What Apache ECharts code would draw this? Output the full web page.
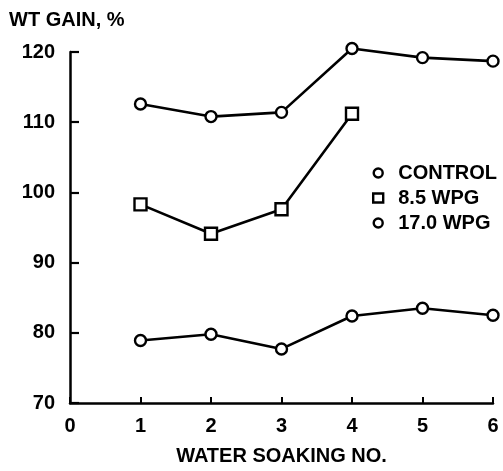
<!DOCTYPE html>
<html>
<head>
<meta charset="utf-8">
<script src="https://cdn.jsdelivr.net/npm/echarts@6/dist/echarts.min.js"></script>
<style>
  html, body { margin: 0; padding: 0; background: #fff; }
  #chart { width: 503px; height: 471px; }
</style>
</head>
<body>
<div id="chart"></div>
<script>
// Water soaking number (x) and weight gain in percent for each treatment
const soakingNo = [1, 2, 3, 4, 5, 6];
const controlGain = [112.6, 110.8, 111.4, 120.5, 119.2, 118.7];
const wpg85Gain = [98.3, 94.1, 97.6, 111.2];
const wpg170Gain = [78.9, 79.8, 77.7, 82.4, 83.5, 82.5];

const seriesNames = ['CONTROL', '8.5 WPG', '17.0 WPG'];
const xTicks = [0, 1, 2, 3, 4, 5, 6];
const yTicks = [70, 80, 90, 100, 110, 120];

const FONT = 'Liberation Sans, Arial, sans-serif';
const INK = '#000';

function pairs(values) {
  return values.map((v, i) => [soakingNo[i], v]);
}

function lineSeries(name, values, symbol, size) {
  return {
    name: name,
    type: 'line',
    data: pairs(values),
    symbol: symbol,
    symbolSize: size,
    showAllSymbol: true,
    clip: false,
    lineStyle: { color: INK, width: 2.6 },
    itemStyle: { color: '#fff', borderColor: INK, borderWidth: 2.4 },
    emphasis: { disabled: true },
    animation: false
  };
}

const chart = echarts.init(document.getElementById('chart'), null, { renderer: 'canvas' });

chart.setOption({
  backgroundColor: '#fff',
  animation: false,
  grid: { left: 70, right: 10, top: 52, bottom: 64, containLabel: false },
  graphic: [{
    type: 'text',
    left: 9,
    top: 10,
    style: {
      text: 'WT GAIN, %',
      font: 'bold 20px ' + FONT,
      fill: INK
    }
  }],
  legend: {
    orient: 'vertical',
    left: 372,
    top: 163,
    padding: 0,
    itemGap: 5,
    itemWidth: 10,
    itemHeight: 9,
    selectedMode: false,
    itemStyle: { color: '#fff', borderColor: INK, borderWidth: 2.4 },
    textStyle: {
      fontFamily: FONT,
      fontWeight: 'bold',
      fontSize: 20,
      color: INK,
      padding: [0, 0, 0, 10]
    },
    data: [
      { name: seriesNames[0], icon: 'circle' },
      { name: seriesNames[1], icon: 'rect' },
      { name: seriesNames[2], icon: 'circle' }
    ]
  },
  xAxis: {
    type: 'value',
    min: xTicks[0],
    max: xTicks[xTicks.length - 1],
    interval: 1,
    name: 'WATER SOAKING NO.',
    nameLocation: 'middle',
    nameGap: 43,
    nameTextStyle: { fontFamily: FONT, fontWeight: 'bold', fontSize: 20, color: INK },
    axisLine: { show: true, lineStyle: { color: INK, width: 2.5 } },
    axisTick: { show: true, inside: true, length: 6, lineStyle: { color: INK, width: 2 } },
    axisLabel: { margin: 13, fontFamily: FONT, fontWeight: 'bold', fontSize: 20, color: INK },
    splitLine: { show: false }
  },
  yAxis: {
    type: 'value',
    min: yTicks[0],
    max: yTicks[yTicks.length - 1],
    interval: 10,
    axisLine: { show: true, lineStyle: { color: INK, width: 2.5 } },
    axisTick: { show: true, inside: true, length: 9, lineStyle: { color: INK, width: 2.2 } },
    axisLabel: { margin: 15, fontFamily: FONT, fontWeight: 'bold', fontSize: 20, color: INK },
    splitLine: { show: false }
  },
  series: [
    lineSeries(seriesNames[0], controlGain, 'circle', 11),
    lineSeries(seriesNames[1], wpg85Gain, 'rect', 12),
    lineSeries(seriesNames[2], wpg170Gain, 'circle', 11)
  ]
});
</script>
</body>
</html>
